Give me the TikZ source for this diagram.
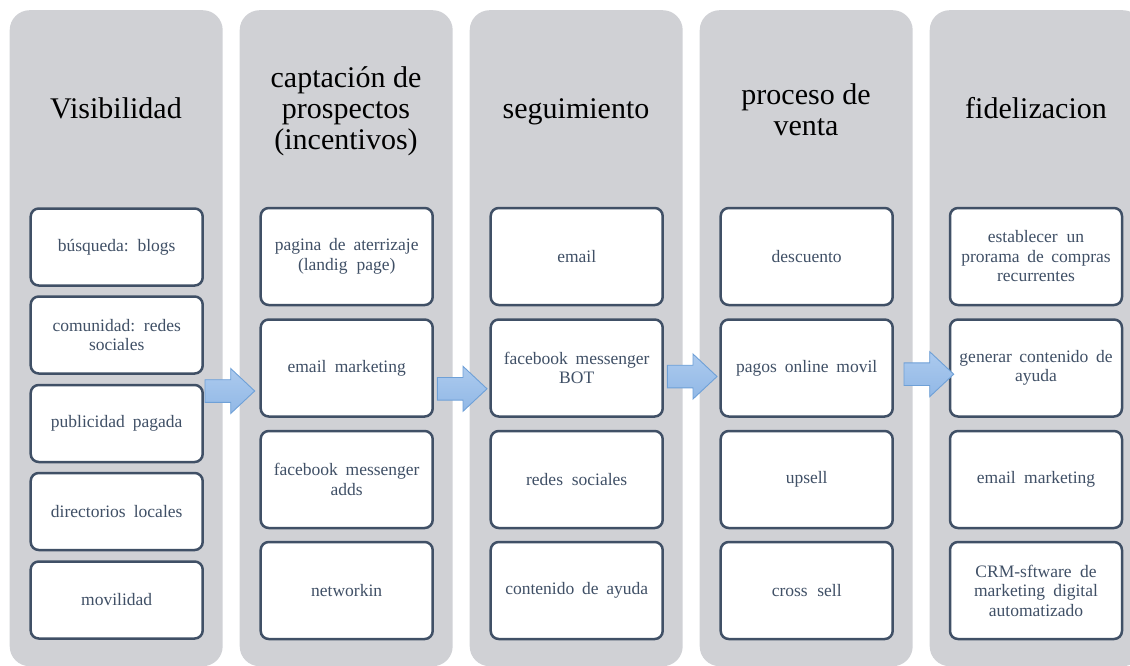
\documentclass[tikz,border=0pt]{standalone}
\usepackage{fontspec}
\setmainfont{Liberation Serif}
\definecolor{colgray}{RGB}{208,209,213}
\definecolor{boxline}{RGB}{64,80,102}
\definecolor{boxtext}{RGB}{64,80,102}
\definecolor{arrowline}{RGB}{110,160,215}
\definecolor{arrowtop}{RGB}{172,202,238}
\definecolor{arrowbot}{RGB}{145,184,230}
\newcommand{\widespaces}{\spaceskip=0.42em plus 0.1em minus 0.05em\relax}
\tikzset{
  column/.style={fill=colgray, draw=none, rounded corners=20pt, minimum width=213pt, minimum height=656pt, anchor=north west, inner sep=0pt},
  title/.style={font=\fontsize{30}{31}\selectfont, align=center, text=black},
  itembox/.style={draw=boxline, line width=2.5pt, fill=white, rounded corners=8pt, minimum width=172pt, text width=160pt, align=center, inner sep=0pt, text=boxtext, font=\fontsize{17.5}{19.5}\selectfont, execute at begin node=\widespaces},
  small/.style={itembox, minimum height=77pt},
  tall/.style={itembox, minimum height=97pt},
  flowarrow/.style={draw=arrowline, line width=0.9pt, top color=arrowtop, bottom color=arrowbot, line join=miter}
}
\newcommand{\flowarrowat}[3]{% name, x0, yc
  \path[flowarrow] (#2,#3-11.3) -- (#2+25.7,#3-11.3) -- (#2+25.7,#3-22.5) -- (#2+49.7,#3)
    -- (#2+25.7,#3+22.5) -- (#2+25.7,#3+11.3) -- (#2,#3+11.3) -- cycle;
  \coordinate (#1) at (#2+25,#3);
}
\begin{document}
\begin{tikzpicture}[x=1pt,y=-1pt]
\useasboundingbox (0,0) rectangle (1130,666);
\clip (0,0) rectangle (1130,666);
% columns
\node[column] (c1) at (9.5,10) {};
\node[column] (c2) at (239.5,10) {};
\node[column] (c3) at (469.5,10) {};
\node[column] (c4) at (699.5,10) {};
\node[column] (c5) at (929.5,10) {};
% titles
\node[title, anchor=base] (t1) at (116,119) {Visibilidad};
\node[title] (t2) at (346,111) {captación de\\prospectos\\(incentivos)};
\node[title, anchor=base] (t3) at (576,119) {seguimiento};
\node[title] (t4) at (806,110) {proceso de\\venta};
\node[title, anchor=base] (t5) at (1036,119) {fidelizacion};
% column 1
\node[small] (a1) at (116.7,247) {búsqueda: blogs};
\node[small] (a2) at (116.7,335) {comunidad: redes\\sociales};
\node[small] (a3) at (116.7,423.5) {publicidad pagada};
\node[small] (a4) at (116.7,511.5) {directorios locales};
\node[small] (a5) at (116.7,600) {movilidad};
% column 2
\node[tall] (b1) at (346.7,256.5) {pagina de aterrizaje\\(landig page)};
\node[tall] (b2) at (346.7,368) {email marketing};
\node[tall] (b3) at (346.7,479.5) {facebook messenger\\adds};
\node[tall] (b4) at (346.7,590.5) {networkin};
% column 3
\node[tall] (d1) at (576.7,256.5) {email};
\node[tall] (d2) at (576.7,368) {facebook messenger\\BOT};
\node[tall] (d3) at (576.7,479.5) {redes sociales};
\node[tall] (d4) at (576.7,590.5) {contenido de ayuda};
% column 4
\node[tall] (e1) at (806.7,256.5) {descuento};
\node[tall] (e2) at (806.7,368) {pagos online movil};
\node[tall] (e3) at (806.7,479.5) {upsell};
\node[tall] (e4) at (806.7,590.5) {cross sell};
% column 5
\node[tall] (f1) at (1036,256.5) {establecer un\\prorama de compras\\recurrentes};
\node[tall] (f2) at (1036,368) {generar contenido de\\ayuda};
\node[tall] (f3) at (1036,479.5) {email marketing};
\node[tall] (f4) at (1036,590.5) {CRM-sftware de\\marketing digital\\automatizado};
% arrows
\flowarrowat{ar1}{205}{391}
\flowarrowat{ar2}{437.3}{388.8}
\flowarrowat{ar3}{667.3}{376.5}
\flowarrowat{ar4}{904}{374.2}
\end{tikzpicture}
\end{document}
